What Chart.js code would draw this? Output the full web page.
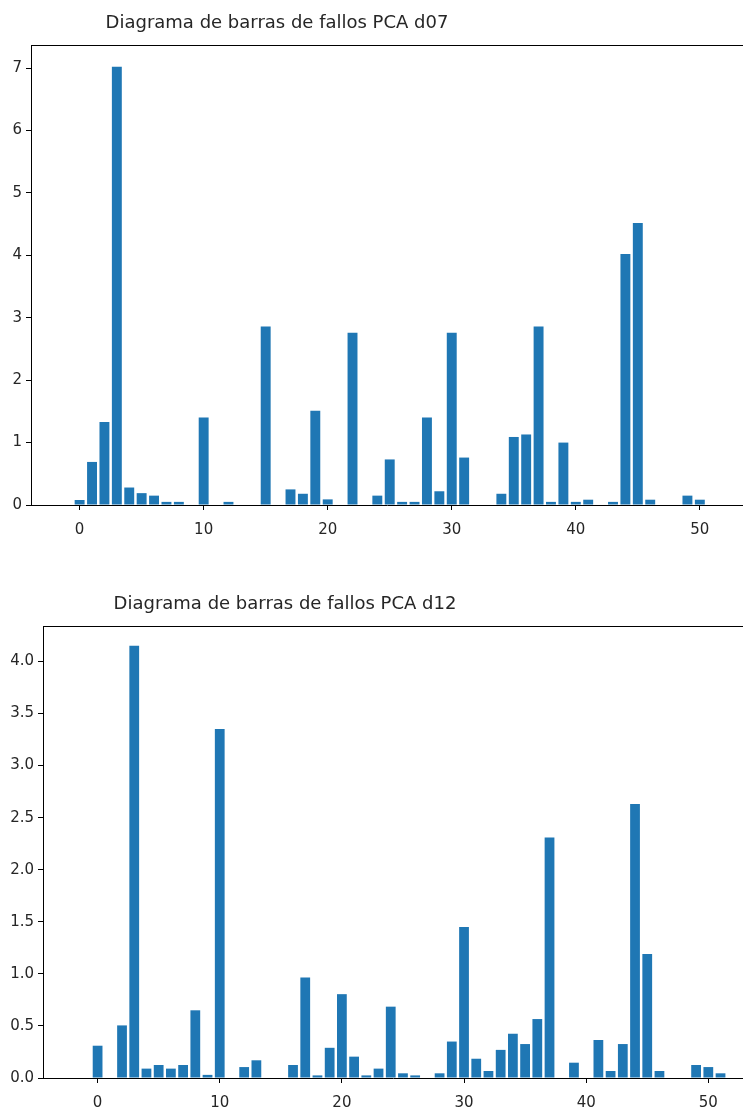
<!DOCTYPE html>
<html>
<head>
<meta charset="utf-8">
<script src="https://cdn.jsdelivr.net/npm/chart.js@4.4.0/dist/chart.umd.min.js"></script>
<style>
  body { margin: 0; background: #fff; }
  .panel { position: absolute; left: 0; }
</style>
</head>
<body>
<div class="panel" style="top:0"><canvas id="chart-d07" width="743" height="560"></canvas></div>
<div class="panel" style="top:560px"><canvas id="chart-d12" width="743" height="551"></canvas></div>
<script>
// indices 0..51
const indices = Array.from({ length: 52 }, (_, i) => i);

const fallosD07 = [
  0.08, 0.69, 1.33, 7.02, 0.28, 0.19, 0.15, 0.05, 0.05, 0,
  1.40, 0, 0.05, 0, 0, 2.86, 0, 0.25, 0.18, 1.51,
  0.09, 0, 2.76, 0, 0.15, 0.73, 0.05, 0.05, 1.40, 0.22,
  2.76, 0.76, 0, 0, 0.18, 1.09, 1.13, 2.86, 0.05, 1.00,
  0.05, 0.085, 0, 0.05, 4.02, 4.52, 0.085, 0, 0, 0.15,
  0.085, 0
];

const fallosD12 = [
  0.31, 0, 0.505, 4.15, 0.09, 0.125, 0.09, 0.125, 0.65, 0.03,
  3.35, 0, 0.105, 0.17, 0, 0, 0.125, 0.965, 0.025, 0.29,
  0.805, 0.205, 0.025, 0.09, 0.685, 0.045, 0.025, 0, 0.045, 0.35,
  1.45, 0.185, 0.067, 0.27, 0.425, 0.326, 0.566, 2.31, 0, 0.147,
  0, 0.365, 0.067, 0.326, 2.63, 1.19, 0.067, 0, 0, 0.125,
  0.105, 0.045
];

const xTicks = [0, 10, 20, 30, 40, 50];
const yTicksD07 = [0, 1, 2, 3, 4, 5, 6, 7];
const yTicksD12 = [0, 0.5, 1.0, 1.5, 2.0, 2.5, 3.0, 3.5, 4.0];

const textColor = "#262626";
const font = { family: "'DejaVu Sans', sans-serif", size: 15 };

// draws title text and the top spine
const framePlugin = {
  id: "frame",
  afterDraw(chart, args, opts) {
    const { ctx, chartArea } = chart;
    ctx.save();
    ctx.strokeStyle = "#000";
    ctx.lineWidth = 1;
    ctx.beginPath();
    ctx.moveTo(chartArea.left, chartArea.top + 0.5);
    ctx.lineTo(chartArea.right, chartArea.top + 0.5);
    ctx.stroke();
    ctx.fillStyle = textColor;
    ctx.font = "18px 'DejaVu Sans', sans-serif";
    ctx.textAlign = "center";
    ctx.textBaseline = "middle";
    ctx.fillText(opts.text, opts.x, opts.y);
    ctx.restore();
  }
};

function makeChart(id, values, yTicks, cfg) {
  const points = indices.map((i) => ({ x: i, y: values[i] }));
  return new Chart(document.getElementById(id), {
    type: "bar",
    data: {
      datasets: [{
        data: points,
        backgroundColor: "#1f77b4",
        borderWidth: 0,
        barPercentage: 0.8,
        categoryPercentage: 1.0,
      }],
    },
    options: {
      responsive: false,
      animation: false,
      layout: { padding: { top: cfg.padTop, right: 0, left: 0, bottom: 0 } },
      plugins: {
        legend: { display: false },
        tooltip: { enabled: false },
        frame: { text: cfg.title, x: cfg.titleX, y: cfg.titleY },
      },
      scales: {
        x: {
          type: "linear",
          offset: false,
          min: cfg.xMin,
          max: cfg.xMax,
          afterBuildTicks: (s) => { s.ticks = xTicks.map((v) => ({ value: v })); },
          afterFit: (s) => { s.height = cfg.xHeight; },
          grid: { display: true, offset: false, drawOnChartArea: false, drawTicks: true, tickLength: 5, color: "#000" },
          border: { display: true, color: "#000", width: 1 },
          ticks: { color: textColor, font, padding: 11, maxRotation: 0 },
        },
        y: {
          min: 0,
          max: cfg.yMax,
          afterBuildTicks: (s) => { s.ticks = yTicks.map((v) => ({ value: v })); },
          afterFit: (s) => { s.width = cfg.yWidth; },
          grid: { display: true, drawOnChartArea: false, drawTicks: true, tickLength: 5, color: "#000" },
          border: { display: true, color: "#000", width: 1 },
          ticks: {
            color: textColor,
            font,
            padding: 4,
            callback: (v) => cfg.decimals ? Number(v).toFixed(1) : String(v),
          },
        },
      },
    },
    plugins: [framePlugin],
  });
}

makeChart("chart-d07", fallosD07, yTicksD07, {
  title: "Diagrama de barras de fallos PCA d07",
  titleX: 277, titleY: 23,
  padTop: 45, xHeight: 55, yWidth: 31,
  xMin: -3.92, xMax: 53.48, yMax: 7.37, decimals: false,
});

makeChart("chart-d12", fallosD12, yTicksD12, {
  title: "Diagrama de barras de fallos PCA d12",
  titleX: 285, titleY: 44,
  padTop: 66, xHeight: 33, yWidth: 43,
  xMin: -4.47, xMax: 52.84, yMax: 4.34, decimals: true,
});
</script>
</body>
</html>
